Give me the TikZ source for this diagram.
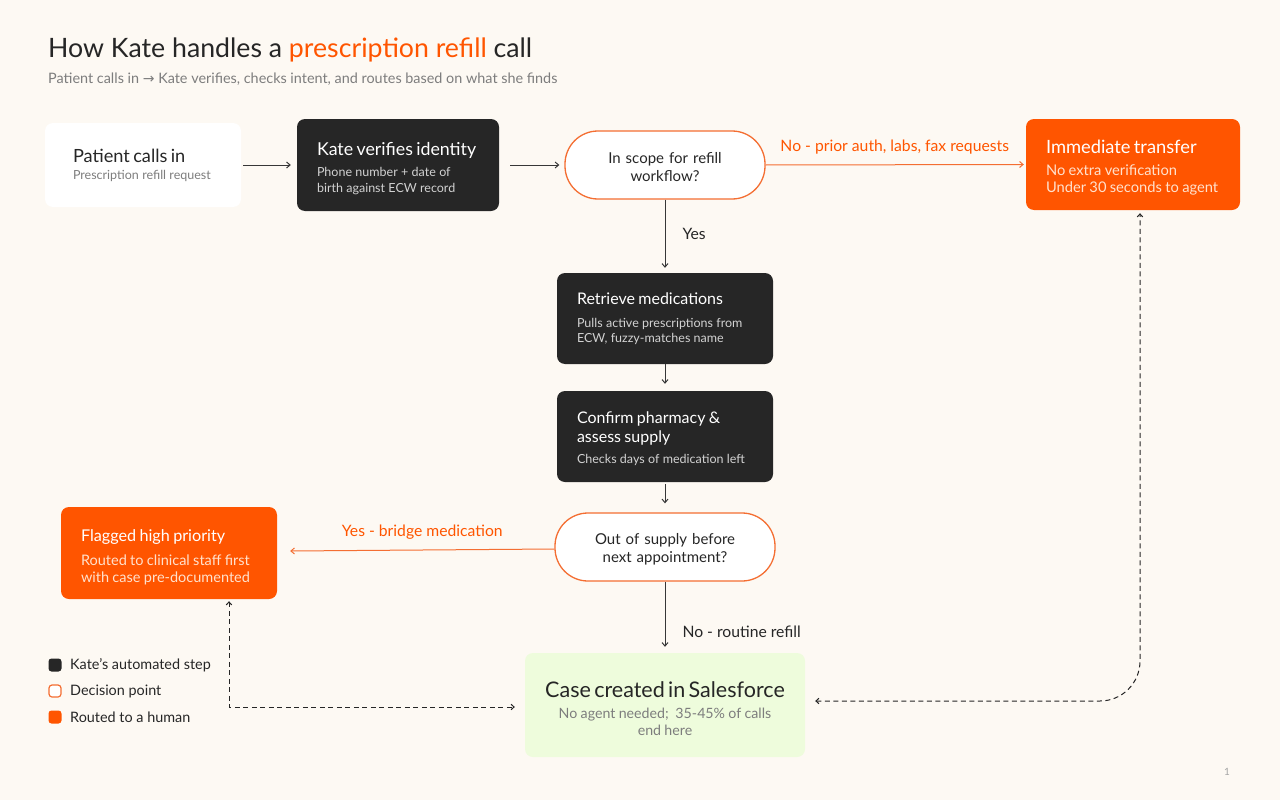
\documentclass[tikz,border=0pt]{standalone}
\usepackage{fontspec}
\setmainfont{Lato}
\newfontfamily\symfont{DejaVu Sans}
\usetikzlibrary{arrows.meta,calc}
\definecolor{bg}{RGB}{253,249,243}
\definecolor{ink}{RGB}{38,38,38}
\definecolor{org}{RGB}{255,85,0}
\definecolor{orgline}{RGB}{244,110,50}
\definecolor{grn}{RGB}{238,252,220}
\definecolor{gry}{RGB}{125,125,125}
\definecolor{lgry}{RGB}{210,210,210}
\definecolor{osub}{RGB}{255,225,205}
\definecolor{conn}{RGB}{55,55,55}
\newcommand{\fs}[2]{\fontsize{#1}{#2}\selectfont}
% top strut: raises the block by half of #2 extra points (font size #1)
\newcommand{\topstrut}[2]{\rule{0pt}{\dimexpr #1pt*3/4+#2pt\relax}}
% #1 top pad, #2 title size, #3 title, #4 gap, #5 sub size, #6 sub leading, #7 sub text
\newcommand{\boxtext}[7]{{\fontsize{#2}{#2}\selectfont\topstrut{#2}{#1}#3\par}\vspace{#4pt}{\fontsize{#5}{#6}\selectfont #7\par}}
\tikzset{
  base/.style={rounded corners=8pt, inner ysep=0pt, align=left},
  darkbox/.style={base, fill=ink, text=white},
  orangebox/.style={base, fill=org, text=white},
  whitebox/.style={base, fill=white, text=ink},
  decision/.style={rounded corners=33pt, draw=orgline, line width=1.3pt, fill=white, text=ink, align=center, inner sep=0pt, font=\fs{15}{18.5}},
  arr/.style={draw=conn, line width=1pt, -{Straight Barb[length=3.5pt,width=6pt]}},
  oarr/.style={draw=orgline, line width=1pt, -{Straight Barb[length=3.5pt,width=6pt]}},
  darr/.style={draw=ink, line width=1pt, dash pattern=on 5pt off 3.5pt, {Straight Barb[length=3pt,width=5.5pt]}-{Straight Barb[length=3pt,width=5.5pt]}},
  lbl/.style={font=\fs{15.7}{18}, inner sep=0pt},
  legsq/.style={rounded corners=3pt, minimum size=13pt, inner sep=0pt},
  legtxt/.style={anchor=west, font=\fs{14.4}{16}, text=ink, inner sep=0pt}
}
\begin{document}
\begin{tikzpicture}[x=1pt,y=-1pt]
\fill[bg] (0,0) rectangle (1280,800);
\useasboundingbox (0,0) rectangle (1280,800);

% title
\node[anchor=base west, inner sep=0pt, text=ink, font=\fs{26.7}{30}] (title) at (48,58)
  {How Kate handles a \textcolor{org}{prescription refill} call};
\node[anchor=base west, inner sep=0pt, text=gry, font=\fs{14.4}{17}] (subtitle) at (48,84)
  {Patient calls in {\symfont\fontsize{14}{14}\selectfont →} Kate verifies, checks intent, and routes based on what she finds};

% nodes
\node[whitebox, minimum width=196, minimum height=84, text width=140, inner xsep=28] (pc) at (143,165)
  {\boxtext{0}{18.2}{Patient calls in}{2}{12.5}{15}{\color{gry}Prescription refill request}};
\node[darkbox, minimum width=202, minimum height=92, text width=162, inner xsep=20] (kv) at (398,165)
  {\boxtext{6}{17.8}{Kate verifies identity}{6}{12.5}{15.5}{\color{lgry}Phone number + date of\\birth against ECW record}};
\node[decision, minimum width=200, minimum height=68, text width=180] (d1) at (665,165)
  {\topstrut{15}{4}In scope for refill\\workflow?};
\node[orangebox, minimum width=214, minimum height=91, text width=174, inner xsep=20] (it) at (1133,164.5)
  {\boxtext{6}{18.3}{Immediate transfer}{5}{14.7}{17}{\color{osub}No extra verification\\Under 30 seconds to agent}};
\node[darkbox, minimum width=216, minimum height=91, text width=176, inner xsep=20] (rm) at (665,318.5)
  {\boxtext{1}{16}{Retrieve medications}{7}{12.5}{15.5}{\color{lgry}Pulls active prescriptions from\\ECW, fuzzy-matches name}};
\node[darkbox, minimum width=216, minimum height=91, text width=176, inner xsep=20] (cp) at (665,436.5)
  {{\fontsize{16}{19}\selectfont\topstrut{16}{4}Confirm pharmacy \&\\assess supply\par}\vspace{6pt}{\fontsize{12.5}{15}\selectfont\color{lgry}Checks days of medication left\par}};
\node[decision, minimum width=220, minimum height=68, text width=200] (d2) at (665,547)
  {\topstrut{15}{4}Out of supply before\\next appointment?};
\node[orangebox, minimum width=216, minimum height=92, text width=176, inner xsep=20] (fh) at (169,553)
  {\boxtext{9}{16.2}{Flagged high priority}{7}{14.5}{17}{\color{osub}Routed to clinical staff first\\with case pre-documented}};
\node[base, fill=grn, text=ink, align=center, minimum width=280, minimum height=104, text width=260, inner xsep=10] (cs) at (665,705)
  {{\fontsize{21.5}{21}\selectfont\topstrut{21.5}{6}Case created in Salesforce\par}\vspace{4pt}{\fontsize{14.2}{17}\selectfont\color{gry}No agent needed;\ \ 35-45\% of calls\\end here\par}};

% connectors
\draw[arr] ($(pc.east)+(2,0)$) -- ($(kv.west)+(-6,0)$);
\draw[arr] ($(kv.east)+(11,0)$) -- ($(d1.west)+(-5,0)$);
\draw[oarr] (d1.east) -- node[lbl, text=org, above=10pt] {No - prior auth, labs, fax requests} ($(it.west)+(-2,0)$);
\draw[arr] (d1.south) -- node[lbl, text=ink, right=17pt, pos=0.5] {Yes} ($(rm.north)+(0,-5)$);
\draw[arr] (rm.south) -- ($(cp.north)+(0,-7)$);
\draw[arr] ($(cp.south)+(0,2)$) -- ($(d2.north)+(0,-9)$);
\draw[oarr] ($(d2.west)+(0,2)$) -- node[lbl, text=org, above=10pt] {Yes - bridge medication} ($(fh.east)+(13,-2)$);
\draw[arr] (d2.south) -- node[lbl, text=ink, right=17pt, pos=0.77] {No - routine refill} ($(cs.north)+(0,-6)$);
\draw[darr] ($(fh.south)+(60,2)$) |- ($(cs.west)+(-10,2)$);
\draw[darr, rounded corners=40pt] ($(cs.east)+(10,-4)$) -| ($(it.south)+(7,3)$);

% legend
\node[legsq, fill=ink] (l1) at (55,665) {};
\node[legsq, draw=orgline, line width=1.2pt, fill=white, minimum size=12pt] (l2) at (55,691) {};
\node[legsq, fill=org] (l3) at (55,717) {};
\node[legtxt] (l1t) at (70,665) {Kate's automated step};
\node[legtxt] (l2t) at (70,691) {Decision point};
\node[legtxt] (l3t) at (70,717) {Routed to a human};

% page number
\node[inner sep=0pt, text=gry!70, font=\fs{10}{12}] (pg) at (1227,772) {1};
\end{tikzpicture}
\end{document}
